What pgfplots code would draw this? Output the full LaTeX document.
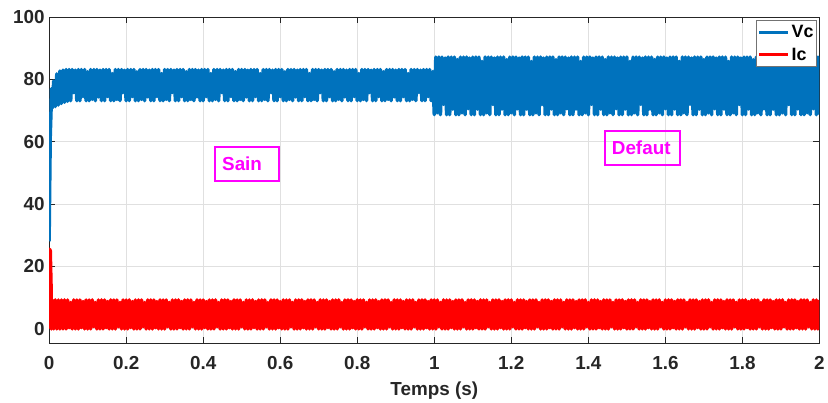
\documentclass[border=0pt]{standalone}
\usepackage{fontspec}
\setmainfont{Liberation Sans}
\usepackage{pgfplots}
\usepackage{pgfplotstable}
\pgfplotsset{compat=1.18}
\definecolor{mblue}{RGB}{0,114,189}
\definecolor{axgray}{RGB}{38,38,38}
\definecolor{mmag}{RGB}{255,0,255}
\definecolor{mred}{RGB}{255,0,0}
\pgfplotstableread{
t vc ic
0.000 28.0 0.0
0.001 40.0 25.5
0.003 62.0 25.0
0.005 70.0 14.0
0.006 77.0 -0.1
0.008 70.8 9.2
0.012 79.5 -0.1
0.016 71.3 9.2
0.020 81.8 -0.1
0.024 71.8 9.2
0.028 82.7 -0.1
0.032 72.3 9.2
0.036 83.0 -0.1
0.040 72.7 9.2
0.044 83.2 -0.1
0.048 73.0 9.2
0.052 83.2 0.3
0.056 73.2 8.4
0.060 83.2 -0.1
0.064 75.8 9.2
0.068 83.0 -0.1
0.072 73.2 9.2
0.076 83.2 -0.1
0.080 73.2 9.2
0.084 83.2 0.3
0.088 74.5 8.7
0.092 83.2 -0.1
0.096 73.2 9.2
0.100 82.5 -0.1
0.104 73.2 9.2
0.108 83.2 -0.1
0.112 73.6 9.2
0.116 83.2 0.6
0.120 73.2 8.4
0.124 83.2 -0.1
0.128 74.4 9.2
0.132 83.0 -0.1
0.136 73.2 9.2
0.140 83.2 -0.1
0.144 73.2 9.2
0.148 83.2 0.3
0.152 74.5 8.7
0.156 83.2 -0.1
0.160 73.2 9.2
0.164 81.9 -0.1
0.168 73.2 9.2
0.172 83.2 -0.1
0.176 73.6 9.2
0.180 83.2 0.6
0.184 73.2 8.4
0.188 83.2 -0.1
0.192 75.8 9.2
0.196 83.0 -0.1
0.200 73.2 9.2
0.204 83.2 -0.1
0.208 73.2 9.2
0.212 83.2 0.3
0.216 74.5 8.7
0.220 83.2 -0.1
0.224 73.2 9.2
0.228 82.5 -0.1
0.232 73.2 9.2
0.236 83.2 -0.1
0.240 73.6 9.2
0.244 83.2 0.6
0.248 73.2 8.4
0.252 83.2 -0.1
0.256 74.4 9.2
0.260 83.0 -0.1
0.264 73.2 9.2
0.268 83.2 -0.1
0.272 73.2 9.2
0.276 83.2 0.3
0.280 74.5 8.7
0.284 83.2 -0.1
0.288 73.2 9.2
0.292 81.9 -0.1
0.296 73.2 9.2
0.300 83.2 -0.1
0.304 73.6 9.2
0.308 83.2 0.6
0.312 73.2 8.4
0.316 83.2 -0.1
0.320 75.8 9.2
0.324 83.0 -0.1
0.328 73.2 9.2
0.332 83.2 -0.1
0.336 73.2 9.2
0.340 83.2 0.3
0.344 74.5 8.7
0.348 83.2 -0.1
0.352 73.2 9.2
0.356 82.5 -0.1
0.360 73.2 9.2
0.364 83.2 -0.1
0.368 73.6 9.2
0.372 83.2 0.6
0.376 73.2 8.4
0.380 83.2 -0.1
0.384 74.4 9.2
0.388 83.0 -0.1
0.392 73.2 9.2
0.396 83.2 -0.1
0.400 73.2 9.2
0.404 83.2 0.3
0.408 74.5 8.7
0.412 83.2 -0.1
0.416 73.2 9.2
0.420 81.9 -0.1
0.424 73.2 9.2
0.428 83.2 -0.1
0.432 73.6 9.2
0.436 83.2 0.6
0.440 73.2 8.4
0.444 83.2 -0.1
0.448 75.8 9.2
0.452 83.0 -0.1
0.456 73.2 9.2
0.460 83.2 -0.1
0.464 73.2 9.2
0.468 83.2 0.3
0.472 74.5 8.7
0.476 83.2 -0.1
0.480 73.2 9.2
0.484 82.5 -0.1
0.488 73.2 9.2
0.492 83.2 -0.1
0.496 73.6 9.2
0.500 83.2 0.6
0.504 73.2 8.4
0.508 83.2 -0.1
0.512 74.4 9.2
0.516 83.0 -0.1
0.520 73.2 9.2
0.524 83.2 -0.1
0.528 73.2 9.2
0.532 83.2 0.3
0.536 74.5 8.7
0.540 83.2 -0.1
0.544 73.2 9.2
0.548 81.9 -0.1
0.552 73.2 9.2
0.556 83.2 -0.1
0.560 73.6 9.2
0.564 83.2 0.6
0.568 73.2 8.4
0.572 83.2 -0.1
0.576 75.8 9.2
0.580 83.0 -0.1
0.584 73.2 9.2
0.588 83.2 -0.1
0.592 73.2 9.2
0.596 83.2 0.3
0.600 74.5 8.7
0.604 83.2 -0.1
0.608 73.2 9.2
0.612 82.5 -0.1
0.616 73.2 9.2
0.620 83.2 -0.1
0.624 73.6 9.2
0.628 83.2 0.6
0.632 73.2 8.4
0.636 83.2 -0.1
0.640 74.4 9.2
0.644 83.0 -0.1
0.648 73.2 9.2
0.652 83.2 -0.1
0.656 73.2 9.2
0.660 83.2 0.3
0.664 74.5 8.7
0.668 83.2 -0.1
0.672 73.2 9.2
0.676 81.9 -0.1
0.680 73.2 9.2
0.684 83.2 -0.1
0.688 73.6 9.2
0.692 83.2 0.6
0.696 73.2 8.4
0.700 83.2 -0.1
0.704 75.8 9.2
0.708 83.0 -0.1
0.712 73.2 9.2
0.716 83.2 -0.1
0.720 73.2 9.2
0.724 83.2 0.3
0.728 74.5 8.7
0.732 83.2 -0.1
0.736 73.2 9.2
0.740 82.5 -0.1
0.744 73.2 9.2
0.748 83.2 -0.1
0.752 73.6 9.2
0.756 83.2 0.6
0.760 73.2 8.4
0.764 83.2 -0.1
0.768 74.4 9.2
0.772 83.0 -0.1
0.776 73.2 9.2
0.780 83.2 -0.1
0.784 73.2 9.2
0.788 83.2 0.3
0.792 74.5 8.7
0.796 83.2 -0.1
0.800 73.2 9.2
0.804 81.9 -0.1
0.808 73.2 9.2
0.812 83.2 -0.1
0.816 73.6 9.2
0.820 83.2 0.6
0.824 73.2 8.4
0.828 83.2 -0.1
0.832 75.8 9.2
0.836 83.0 -0.1
0.840 73.2 9.2
0.844 83.2 -0.1
0.848 73.2 9.2
0.852 83.2 0.3
0.856 74.5 8.7
0.860 83.2 -0.1
0.864 73.2 9.2
0.868 82.5 -0.1
0.872 73.2 9.2
0.876 83.2 -0.1
0.880 73.6 9.2
0.884 83.2 0.6
0.888 73.2 8.4
0.892 83.2 -0.1
0.896 74.4 9.2
0.900 83.0 -0.1
0.904 73.2 9.2
0.908 83.2 -0.1
0.912 73.2 9.2
0.916 83.2 0.3
0.920 74.5 8.7
0.924 83.2 -0.1
0.928 73.2 9.2
0.932 81.9 -0.1
0.936 73.2 9.2
0.940 83.2 -0.1
0.944 73.6 9.2
0.948 83.2 0.6
0.952 73.2 8.4
0.956 83.2 -0.1
0.960 75.8 9.2
0.964 83.0 -0.1
0.968 73.2 9.2
0.972 83.2 -0.1
0.976 73.2 9.2
0.980 83.2 0.3
0.984 74.5 8.7
0.988 83.2 -0.1
0.992 73.2 9.2
0.996 82.5 -0.1
1.000 68.7 9.2
1.004 87.2 -0.1
1.008 69.3 9.2
1.012 87.2 0.6
1.016 68.7 8.4
1.020 87.2 -0.1
1.024 72.0 9.2
1.028 86.9 -0.1
1.032 68.7 9.2
1.036 87.2 -0.1
1.040 68.7 9.2
1.044 87.2 0.3
1.048 70.5 8.7
1.052 87.2 -0.1
1.056 68.7 9.2
1.060 86.4 -0.1
1.064 68.7 9.2
1.068 87.2 -0.1
1.072 69.3 9.2
1.076 87.2 0.6
1.080 68.7 8.4
1.084 87.2 -0.1
1.088 70.6 9.2
1.092 86.9 -0.1
1.096 68.7 9.2
1.100 87.2 -0.1
1.104 68.7 9.2
1.108 87.2 0.3
1.112 70.5 8.7
1.116 87.2 -0.1
1.120 68.7 9.2
1.124 85.8 -0.1
1.128 68.7 9.2
1.132 87.2 -0.1
1.136 69.3 9.2
1.140 87.2 0.6
1.144 68.7 8.4
1.148 87.2 -0.1
1.152 72.0 9.2
1.156 86.9 -0.1
1.160 68.7 9.2
1.164 87.2 -0.1
1.168 68.7 9.2
1.172 87.2 0.3
1.176 70.5 8.7
1.180 87.2 -0.1
1.184 68.7 9.2
1.188 86.4 -0.1
1.192 68.7 9.2
1.196 87.2 -0.1
1.200 69.3 9.2
1.204 87.2 0.6
1.208 68.7 8.4
1.212 87.2 -0.1
1.216 70.6 9.2
1.220 86.9 -0.1
1.224 68.7 9.2
1.228 87.2 -0.1
1.232 68.7 9.2
1.236 87.2 0.3
1.240 70.5 8.7
1.244 87.2 -0.1
1.248 68.7 9.2
1.252 85.8 -0.1
1.256 68.7 9.2
1.260 87.2 -0.1
1.264 69.3 9.2
1.268 87.2 0.6
1.272 68.7 8.4
1.276 87.2 -0.1
1.280 72.0 9.2
1.284 86.9 -0.1
1.288 68.7 9.2
1.292 87.2 -0.1
1.296 68.7 9.2
1.300 87.2 0.3
1.304 70.5 8.7
1.308 87.2 -0.1
1.312 68.7 9.2
1.316 86.4 -0.1
1.320 68.7 9.2
1.324 87.2 -0.1
1.328 69.3 9.2
1.332 87.2 0.6
1.336 68.7 8.4
1.340 87.2 -0.1
1.344 70.6 9.2
1.348 86.9 -0.1
1.352 68.7 9.2
1.356 87.2 -0.1
1.360 68.7 9.2
1.364 87.2 0.3
1.368 70.5 8.7
1.372 87.2 -0.1
1.376 68.7 9.2
1.380 85.8 -0.1
1.384 68.7 9.2
1.388 87.2 -0.1
1.392 69.3 9.2
1.396 87.2 0.6
1.400 68.7 8.4
1.404 87.2 -0.1
1.408 72.0 9.2
1.412 86.9 -0.1
1.416 68.7 9.2
1.420 87.2 -0.1
1.424 68.7 9.2
1.428 87.2 0.3
1.432 70.5 8.7
1.436 87.2 -0.1
1.440 68.7 9.2
1.444 86.4 -0.1
1.448 68.7 9.2
1.452 87.2 -0.1
1.456 69.3 9.2
1.460 87.2 0.6
1.464 68.7 8.4
1.468 87.2 -0.1
1.472 70.6 9.2
1.476 86.9 -0.1
1.480 68.7 9.2
1.484 87.2 -0.1
1.488 68.7 9.2
1.492 87.2 0.3
1.496 70.5 8.7
1.500 87.2 -0.1
1.504 68.7 9.2
1.508 85.8 -0.1
1.512 68.7 9.2
1.516 87.2 -0.1
1.520 69.3 9.2
1.524 87.2 0.6
1.528 68.7 8.4
1.532 87.2 -0.1
1.536 72.0 9.2
1.540 86.9 -0.1
1.544 68.7 9.2
1.548 87.2 -0.1
1.552 68.7 9.2
1.556 87.2 0.3
1.560 70.5 8.7
1.564 87.2 -0.1
1.568 68.7 9.2
1.572 86.4 -0.1
1.576 68.7 9.2
1.580 87.2 -0.1
1.584 69.3 9.2
1.588 87.2 0.6
1.592 68.7 8.4
1.596 87.2 -0.1
1.600 70.6 9.2
1.604 86.9 -0.1
1.608 68.7 9.2
1.612 87.2 -0.1
1.616 68.7 9.2
1.620 87.2 0.3
1.624 70.5 8.7
1.628 87.2 -0.1
1.632 68.7 9.2
1.636 85.8 -0.1
1.640 68.7 9.2
1.644 87.2 -0.1
1.648 69.3 9.2
1.652 87.2 0.6
1.656 68.7 8.4
1.660 87.2 -0.1
1.664 72.0 9.2
1.668 86.9 -0.1
1.672 68.7 9.2
1.676 87.2 -0.1
1.680 68.7 9.2
1.684 87.2 0.3
1.688 70.5 8.7
1.692 87.2 -0.1
1.696 68.7 9.2
1.700 86.4 -0.1
1.704 68.7 9.2
1.708 87.2 -0.1
1.712 69.3 9.2
1.716 87.2 0.6
1.720 68.7 8.4
1.724 87.2 -0.1
1.728 70.6 9.2
1.732 86.9 -0.1
1.736 68.7 9.2
1.740 87.2 -0.1
1.744 68.7 9.2
1.748 87.2 0.3
1.752 70.5 8.7
1.756 87.2 -0.1
1.760 68.7 9.2
1.764 85.8 -0.1
1.768 68.7 9.2
1.772 87.2 -0.1
1.776 69.3 9.2
1.780 87.2 0.6
1.784 68.7 8.4
1.788 87.2 -0.1
1.792 72.0 9.2
1.796 86.9 -0.1
1.800 68.7 9.2
1.804 87.2 -0.1
1.808 68.7 9.2
1.812 87.2 0.3
1.816 70.5 8.7
1.820 87.2 -0.1
1.824 68.7 9.2
1.828 86.4 -0.1
1.832 68.7 9.2
1.836 87.2 -0.1
1.840 69.3 9.2
1.844 87.2 0.6
1.848 68.7 8.4
1.852 87.2 -0.1
1.856 70.6 9.2
1.860 86.9 -0.1
1.864 68.7 9.2
1.868 87.2 -0.1
1.872 68.7 9.2
1.876 87.2 0.3
1.880 70.5 8.7
1.884 87.2 -0.1
1.888 68.7 9.2
1.892 85.8 -0.1
1.896 68.7 9.2
1.900 87.2 -0.1
1.904 69.3 9.2
1.908 87.2 0.6
1.912 68.7 8.4
1.916 87.2 -0.1
1.920 72.0 9.2
1.924 86.9 -0.1
1.928 68.7 9.2
1.932 87.2 -0.1
1.936 68.7 9.2
1.940 87.2 0.3
1.944 70.5 8.7
1.948 87.2 -0.1
1.952 68.7 9.2
1.956 86.4 -0.1
1.960 68.7 9.2
1.964 87.2 -0.1
1.968 69.3 9.2
1.972 87.2 0.6
1.976 68.7 8.4
1.980 87.2 -0.1
1.984 70.6 9.2
1.988 86.9 -0.1
1.992 68.7 9.2
1.996 87.2 -0.1
2.000 68.7 9.2
}\datatab
\begin{document}
\begin{tikzpicture}
\begin{axis}[
  scale only axis,
  width=773.4bp, height=327bp,
  xmin=0, xmax=2, ymin=-4.6, ymax=100,
  xtick={0,0.2,0.4,0.6,0.8,1,1.2,1.4,1.6,1.8,2},
  xticklabels={0,0.2,0.4,0.6,0.8,1,1.2,1.4,1.6,1.8,2},
  ytick={0,20,40,60,80,100},
  yticklabels={0,20,40,60,80,100},
  tick align=inside,
  major tick length=6bp,
  grid=major,
  grid style={black!12, line width=0.7bp},
  axis line style={axgray, line width=0.8bp},
  tick style={axgray, line width=0.8bp},
  ticklabel style={font=\fontsize{19}{21}\selectfont\bfseries, text=axgray},
  xticklabel style={yshift=-10bp},
  yticklabel style={xshift=-1bp},
  xlabel={Temps (s)},
  xlabel style={font=\fontsize{19}{21}\selectfont\bfseries, text=axgray, yshift=-5bp},
  legend style={at={(1,1)}, anchor=north east, xshift=-2.5bp, yshift=-2.7bp,
    draw=black!55, line width=0.8bp, fill=white,
    font=\fontsize{18}{20}\selectfont\bfseries, legend cell align=left,
    inner xsep=1bp, inner ysep=3bp, row sep=5bp},
  legend image code/.code={\draw[#1, line width=3.2bp] (0bp,0bp) -- (29bp,0bp);},
]
\addplot[mblue, line width=3.5bp, line join=round] table[x=t, y=vc]{\datatab};
\addlegendentry{Vc}
\addplot[mred, line width=3.5bp, line join=round] table[x=t, y=ic]{\datatab};
\addlegendentry{Ic}
\node[draw=mmag, line width=2bp, text=mmag, text width=50bp, inner xsep=7bp,
  minimum height=34bp, align=left, font=\fontsize{19}{21}\selectfont\bfseries]
  at (axis cs:0.514,52.9) {Sain};
\node[draw=mmag, line width=2bp, text=mmag, text width=61bp, inner xsep=7bp,
  minimum height=34bp, align=left, font=\fontsize{19}{21}\selectfont\bfseries]
  at (axis cs:1.54,58.0) {Defaut};
\end{axis}
\path[use as bounding box] ([xshift=-49.3bp, yshift=-57.7bp]current axis.south west)
  rectangle ([xshift=5.3bp, yshift=17.3bp]current axis.north east);
\end{tikzpicture}
\end{document}
